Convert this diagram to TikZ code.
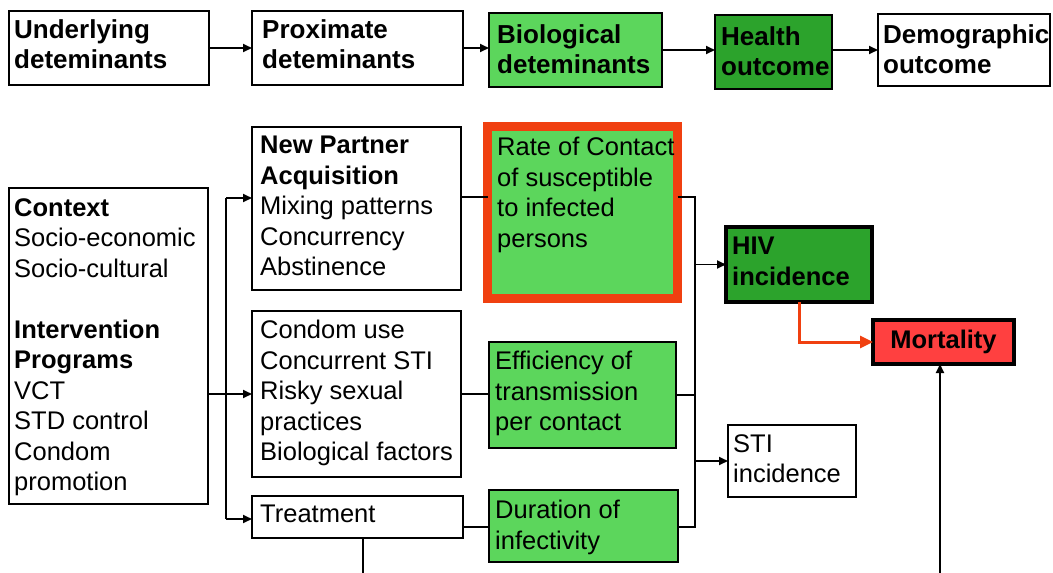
\documentclass[tikz,border=0pt]{standalone}
\usepackage{fontspec}
\setmainfont{Liberation Sans}
\usetikzlibrary{arrows.meta}
\definecolor{bioGreen}{RGB}{92,214,92}
\definecolor{hlthGreen}{RGB}{44,163,44}
\definecolor{mortRed}{RGB}{255,64,64}
\definecolor{rateOrange}{RGB}{240,64,16}
\begin{document}
\begin{tikzpicture}[x=1pt,y=-1pt,
    box/.style={draw, line width=1.5pt, anchor=north west, inner sep=0pt, outer sep=0pt},
    txt/.style={anchor=north west, align=left, inner sep=0pt, font=\fontsize{25.5}{30.5}\selectfont},
    head/.style={txt, font=\fontsize{26}{30}\selectfont\bfseries},
    link/.style={line width=1.8pt},
    >={Triangle[length=9pt,width=8pt]}]
    \useasboundingbox (0,0) rectangle (1053,573);
    % ligne du haut
    \node [box, minimum width=200, minimum height=74] (und) at (9,11) {};
    \node [box, minimum width=211, minimum height=74] (prox) at (252,11) {};
    \node [box, minimum width=173, minimum height=74, fill=bioGreen] (bio) at (489,13) {};
    \node [box, minimum width=117, minimum height=74, fill=hlthGreen] (hlth) at (715,15) {};
    \node [box, minimum width=172, minimum height=72] (demo) at (878,14) {};
    \node [head] (und-t) at (14,19) {Underlying\\deteminants};
    \node [head] (prox-t) at (262,19) {Proximate\\deteminants};
    \node [head] (bio-t) at (497,24) {Biological\\deteminants};
    \node [head] (hlth-t) at (721,26) {Health\\outcome};
    \node [head] (demo-t) at (883,24) {Demographic\\outcome};
    \draw [link, ->] (und.east) -- (prox.west);
    \draw [link, ->] (prox.east) -- (prox.east -| bio.west);
    \draw [link, ->] (bio.east) -- (bio.east -| hlth.west);
    \draw [link, ->] (hlth.east |- demo.west) -- (demo.west);
    % determinants sous-jacents
    \node [box, minimum width=199, minimum height=316] (ctx) at (9,188) {};
    \node [txt] (ctx-t) at (14,198) {\textbf{Context}\\Socio-economic\\Socio-cultural\\[30.5pt]\textbf{Intervention}\\\textbf{Programs}\\VCT\\STD control\\Condom\\promotion};
    % determinants proches
    \node [box, minimum width=209, minimum height=163] (np) at (252,127) {};
    \node [txt] (np-t) at (260,136) {\textbf{New Partner}\\\textbf{Acquisition}\\Mixing patterns\\Concurrency\\Abstinence};
    \node [box, minimum width=209, minimum height=166] (cond) at (252,311) {};
    \node [txt] (cond-t) at (260,320) {Condom use\\Concurrent STI\\Risky sexual\\practices\\Biological factors};
    \node [box, minimum width=211, minimum height=42] (treat) at (252,496) {};
    \node [txt] (treat-t) at (260,505) {Treatment};
    % determinants biologiques
    \node [box, line width=9pt, draw=rateOrange, fill=bioGreen, minimum width=190, minimum height=172] (rate) at (487.5,126.5) {};
    \node [txt] (rate-t) at (497,137) {Rate of Contact\\of susceptible\\to infected\\persons};
    \node [box, minimum width=187, minimum height=106, fill=bioGreen] (eff) at (489,342) {};
    \node [txt] (eff-t) at (495,351) {Efficiency of\\transmission\\per contact};
    \node [box, minimum width=189, minimum height=72, fill=bioGreen] (dur) at (489,490) {};
    \node [txt] (dur-t) at (495,500) {Duration of\\infectivity};
    % resultats
    \node [box, line width=3.5pt, minimum width=146, minimum height=75, fill=hlthGreen] (hiv) at (726,227) {};
    \node [txt, font=\fontsize{25.5}{30.5}\selectfont\bfseries] (hiv-t) at (732,237) {HIV\\incidence};
    \node [box, line width=3.5pt, minimum width=141, minimum height=44, fill=mortRed, font=\fontsize{25.5}{30.5}\selectfont\bfseries] (mort) at (873,320) {Mortality};
    \node [box, minimum width=128, minimum height=72] (sti) at (728,425) {};
    \node [txt] (sti-t) at (733,434) {STI\\incidence};
    % fourche gauche
    \coordinate (lfork) at (226,198);
    \coordinate (lbot) at (226,519);
    \draw [link, ->] (ctx.east |- cond.west) -- (cond.west);
    \draw [link] (lfork) -- (lbot);
    \draw [link, ->] (lfork) -- (lfork -| np.west);
    \draw [link, ->] (lbot) -- (lbot -| treat.west);
    % fourche droite
    \coordinate (rfork) at (695,197);
    \coordinate (rbot) at (695,527);
    \draw [link] (np.east |- rfork) -- (rate.west |- rfork);
    \draw [link] (cond.east) -- (cond.east -| eff.west);
    \draw [link] (treat.east |- rbot) -- (dur.west |- rbot);
    \draw [link] (rate.east |- rfork) -- (rfork) -- (rbot) -- (dur.east |- rbot);
    \draw [link] (eff.east) -- (eff.east -| rfork);
    \draw [link, ->] (hiv.west -| rfork) -- (hiv.west);
    \draw [link, ->] (sti.west -| rfork) -- (sti.west);
    % vers la mortalite
    \draw [line width=3pt, rateOrange, -{Triangle[length=13pt,width=12pt]}] (hiv.south) |- (mort.west);
    \coordinate (trout) at (363,573);
    \coordinate (mortin) at (940,573);
    \draw [link] (treat.south -| trout) -- (trout);
    \draw [link, ->] (mortin) -- (mortin |- mort.south);
\end{tikzpicture}
\end{document}
